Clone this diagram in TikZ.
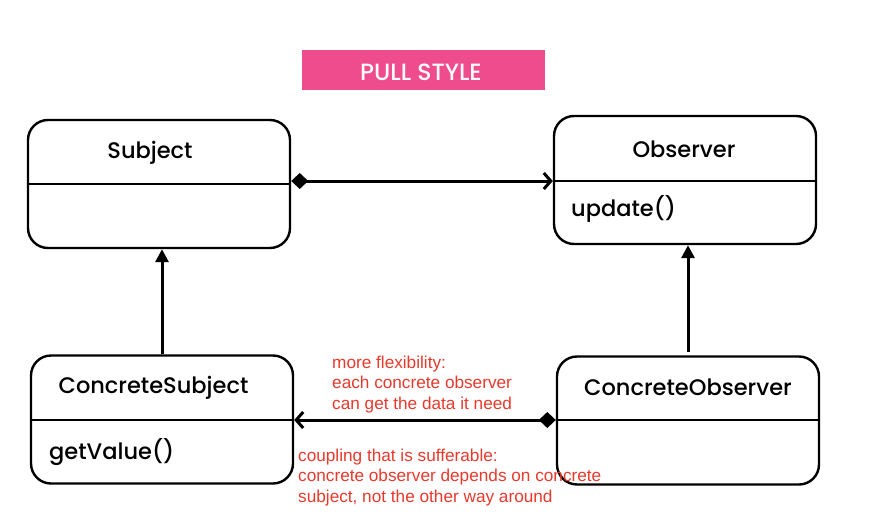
\documentclass[tikz,border=0pt]{standalone}
\usepackage{fontspec}
\setmainfont{Poppins Medium}
\newfontfamily\notefont{Liberation Sans}
\usetikzlibrary{arrows.meta}
\definecolor{bannerpink}{HTML}{EE4C8C}
\definecolor{notered}{HTML}{E8392C}
\tikzset{
  umlbox/.style={draw=black, line width=2.4pt, rounded corners=20pt, minimum width=262pt, minimum height=128pt, inner sep=0pt},
  divider/.style={line width=2.2pt},
  title/.style={font=\fontsize{22.5}{24}\selectfont, inner sep=0pt},
  member/.style={font=\fontsize{22.5}{24}\selectfont, inner sep=0pt, anchor=west},
  conn/.style={line width=3pt},
  note/.style={font=\notefont\fontsize{17.2}{20.2}\selectfont, text=notered, align=left, anchor=north west, inner sep=0pt},
  composed/.style={conn, {Diamond[length=17pt,width=16pt]}-{Straight Barb[length=7pt,width=16pt,line width=3pt]}},
  inherits/.style={conn, -{Triangle[length=13pt,width=13pt]}}
}
\begin{document}
\begin{tikzpicture}[x=1pt,y=-1pt]
\useasboundingbox (0,0) rectangle (882,524);
% banner
\node[fill=bannerpink, minimum width=243pt, minimum height=40pt, inner sep=0pt] (banner) at (423.5,70) {};
\node[text=white!95!pink, font=\fontsize{23.5}{24}\selectfont, inner sep=0pt] (bannert) at (421,72) {PULL STYLE};
% boxes
\node[umlbox] (subj) at (159,184) {};
\node[umlbox] (obs) at (685,180) {};
\node[umlbox] (csubj) at (162,419.5) {};
\node[umlbox] (cobs) at (688,420.5) {};
% dividers
\draw[divider] (subj.west) -- (subj.east);
\draw[divider] (obs.180 |- 0,181) -- (obs.east |- 0,181);
\draw[divider] (csubj.west |- 0,420) -- (csubj.east |- 0,420);
\draw[divider] (cobs.west |- 0,420) -- (cobs.east |- 0,420);
% texts
\node[title] (subjt) at (150,153) {Subject};
\node[title] (obst) at (684,149) {Observer};
\node[member] (upd) at (571,209) {update()};
\node[title] (csubjt) at (153.5,388) {ConcreteSubject};
\node[member] (getv) at (49,452) {getValue()};
\node[title] (cobst) at (688,387) {ConcreteObserver};
% connectors
\draw[composed] (subj.east |- 0,181) -- (obs.west |- 0,181);
\draw[composed] (cobs.west |- 0,420) -- (csubj.east |- 0,420);
\draw[inherits] (csubj.north) -- (subj.south -| csubj.north);
\coordinate (cobstop) at (688,352);
\draw[inherits] (cobstop) -- (obs.south -| cobstop);
% notes
\node[note] (n1) at (332,356) {more flexibility:\\each concrete observer\\can get the data it need};
\node[note] (n2) at (298,449) {coupling that is sufferable:\\concrete observer depends on concrete\\subject, not the other way around};
\end{tikzpicture}
\end{document}
